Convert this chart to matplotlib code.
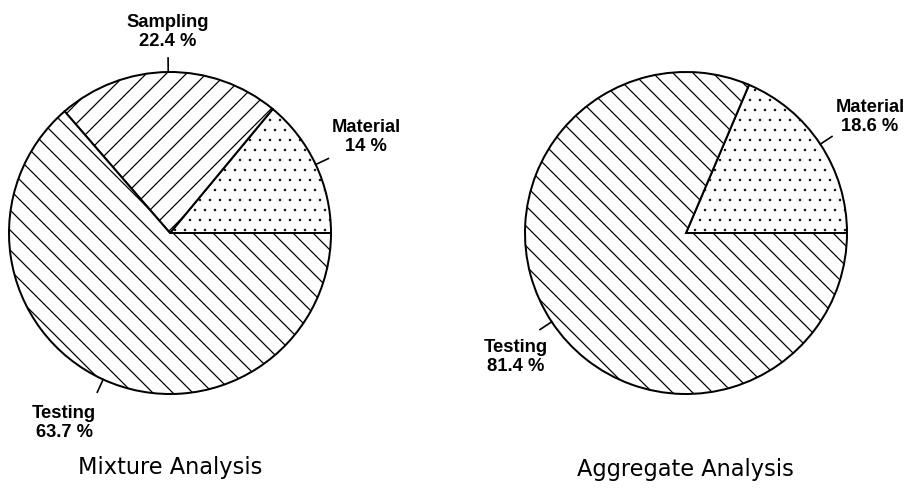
import numpy as np
import matplotlib
matplotlib.use("Agg")
import matplotlib.pyplot as plt

# data
mixture_labels = ["Material", "Sampling", "Testing"]
mixture_values = [14.0, 22.4, 63.7]
mixture_hatch = ["..", "//", "\\\\"]

aggregate_labels = ["Material", "Testing"]
aggregate_values = [18.6, 81.4]
aggregate_hatch = ["..", "\\\\"]

titles = ["Mixture Analysis", "Aggregate Analysis"]

DPI = 120
W, H = 905, 496
plt.rcParams["hatch.linewidth"] = 0.75

fig = plt.figure(figsize=(W / DPI, H / DPI), dpi=DPI)
ax = fig.add_axes([0, 0, 1, 1])


def draw_pie(ax, values, labels, hatches, center, radius, label_pos, title, title_pos):
    wedges, _ = ax.pie(
        values,
        center=center,
        radius=radius,
        startangle=0,
        counterclock=True,
        colors=["white"] * len(values),
        wedgeprops=dict(edgecolor="black", linewidth=1.2),
        frame=True,
    )
    for w, h in zip(wedges, hatches):
        w.set_hatch(h)
        if "." in h and hasattr(w, "set_hatch_linewidth"):
            w.set_hatch_linewidth(0.3)
    for w, lab, val, pos in zip(wedges, labels, values, label_pos):
        mid = np.deg2rad((w.theta1 + w.theta2) / 2)
        r0, r1 = radius, radius + 14
        ax.plot(
            [center[0] + r0 * np.cos(mid), center[0] + r1 * np.cos(mid)],
            [center[1] + r0 * np.sin(mid), center[1] + r1 * np.sin(mid)],
            color="black",
            lw=1.0,
        )
        ax.text(
            pos[0], pos[1], "%s\n%g %%" % (lab, val),
            ha="center", va="center", fontsize=11, fontweight="bold",
            family="Liberation Sans", linespacing=1.15,
        )
    ax.text(title_pos[0], title_pos[1], title, ha="center", va="center",
            fontsize=13.5, family="DejaVu Sans")


draw_pie(ax, mixture_values, mixture_labels, mixture_hatch,
         (170, H - 233), 161,
         [(366, H - 137), (168, H - 32), (64, H - 423)],
         titles[0], (170, H - 467))
draw_pie(ax, aggregate_values, aggregate_labels, aggregate_hatch,
         (686, H - 233), 161,
         [(870, H - 117), (516, H - 357)],
         titles[1], (685, H - 469))

ax.set_xlim(0, W)
ax.set_ylim(0, H)
ax.set_aspect("auto")
ax.axis("off")

plt.savefig("out.png", dpi=DPI, facecolor="white")
